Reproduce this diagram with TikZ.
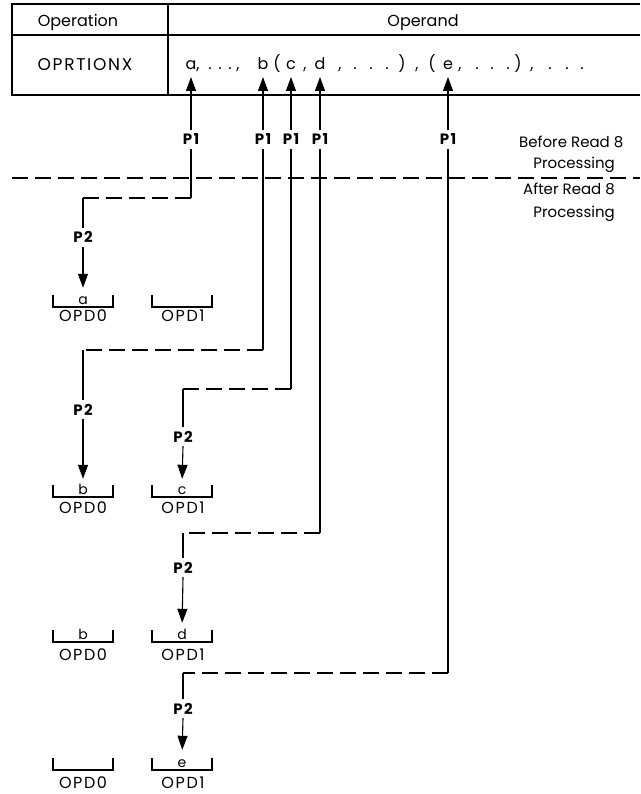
\documentclass[tikz,border=0pt]{standalone}
\usepackage{fontspec}
\setmainfont{Poppins}
\newfontfamily\widefont[LetterSpace=10]{Poppins}
\usetikzlibrary{arrows.meta}
\begin{document}
\begin{tikzpicture}[x=1pt,y=-1pt,
  tbl/.style={line width=1.8pt},
  conn/.style={line width=1.1pt},
  dsh/.style={line width=1.1pt, dash pattern=on 16pt off 7pt},
  arr/.style={-{Triangle[length=14pt,width=10pt]}},
  txt/.style={font=\fontsize{16}{16}\selectfont, inner sep=0pt, anchor=base},
  optx/.style={font=\fontsize{16}{16}\selectfont, inner sep=0pt, anchor=base},
  plbl/.style={font=\widefont\bfseries\fontsize{15}{15}\selectfont, inner sep=4pt, anchor=base},
  opdl/.style={font=\widefont\fontsize{16}{16}\selectfont, inner sep=0pt, anchor=base},
  brk/.style={minimum width=59pt, minimum height=12pt, inner sep=0pt},
  brkline/.style={line width=2pt},
  brl/.style={font=\fontsize{14}{14}\selectfont, inner sep=0pt, anchor=base},
  side/.style={font=\fontsize{15}{15}\selectfont, inner sep=0pt, anchor=base east}
]
\useasboundingbox (0,0) rectangle (640,794);

% table
\draw[tbl] (640,4) -- (12,4) -- (12,95) -- (640,95);
\draw[tbl] (12,35) -- (640,35);
\draw[tbl] (168,4) -- (168,95);
\node[txt] (hop) at (78,27) {Operation};
\node[txt] (hod) at (423,27) {Operand};
\node[txt, font=\widefont\fontsize{17}{17}\selectfont] (opx) at (85,71) {OPRTIONX};

% operand characters
\node[optx] (opa) at (191,70) {a};
\node[optx] (opb) at (263,70) {b};
\node[optx] (opc) at (291,70) {c};
\node[optx] (opd) at (320,70) {d};
\node[optx] (ope) at (448,70) {e};
\foreach \x/\c [count=\i] in {198/{,},210/.,220/.,230/.,238/{,},277/(,305/{,},340/{,},355/.,371/.,387/.,402/),417/{,},432/(,460/{,},477/.,492/.,508/.,518/),532/{,},550/.,567/.,582/.}
  \node[optx] (oc\i) at (\x,70) {\c};

% before/after line
\coordinate (dl) at (12,178);
\coordinate (dr) at (640,178);
\draw[dsh] (dl) -- (dr);
\node[anchor=base west, inner sep=0pt, font=\fontsize{15}{15}\selectfont] (bf1) at (519,148) {Before Read 8};
\node[side] (bf2) at (615,169) {Processing};
\node[side] (af1) at (615,195) {After Read 8};
\node[side] (af2) at (615,218) {Processing};

% P1 labels
\node[plbl] (p1a) at (191,145) {P1};
\node[plbl] (p1b) at (263,145) {P1};
\node[plbl] (p1c) at (291,145) {P1};
\node[plbl] (p1d) at (320,145) {P1};
\node[plbl] (p1e) at (448,145) {P1};

% arrow tips
\coordinate (ta) at (191,77);
\coordinate (tb) at (263,77);
\coordinate (tc) at (291,77);
\coordinate (td) at (320,77);
\coordinate (te) at (448,77);

% corners
\coordinate (ka) at (191,198);  \coordinate (la) at (83,198);
\coordinate (kb) at (263,350);  \coordinate (lb) at (83,350);
\coordinate (kc) at (291,389);  \coordinate (lc) at (183,389);
\coordinate (kd) at (320,533);  \coordinate (ld) at (183,533);
\coordinate (ke) at (448,673);  \coordinate (le) at (183,673);

% P2 labels
\node[plbl] (p2a) at (83,243) {P2};
\node[plbl] (p2b) at (83,415) {P2};
\node[plbl] (p2c) at (183,442) {P2};
\node[plbl] (p2d) at (183,573) {P2};
\node[plbl] (p2e) at (183,714) {P2};

% brackets
\node[brk] (r1a) at (83,301) {};   \node[brk] (r1b) at (182,301) {};
\node[brk] (r2a) at (83,491) {};   \node[brk] (r2b) at (182,491) {};
\node[brk] (r3a) at (83,636) {};   \node[brk] (r3b) at (182,636) {};
\node[brk] (r4a) at (83,764) {};   \node[brk] (r4b) at (182,764) {};
\foreach \n in {r1a,r1b,r2a,r2b,r3a,r3b,r4a,r4b}
  \draw[brkline] (\n.north west) -- (\n.south west) -- (\n.south east) -- (\n.north east);

\node[brl] (la1) at (83,304) {a};
\node[brl] (lb2) at (83,494) {b};
\node[brl] (lc2) at (182,494) {c};
\node[brl] (lb3) at (83,639) {b};
\node[brl] (ld3) at (182,639) {d};
\node[brl] (le4) at (182,767) {e};

\node[opdl] (o1a) at (83,321) {OPD0};  \node[opdl] (o1b) at (183,321) {OPD1};
\node[opdl] (o2a) at (83,513) {OPD0};  \node[opdl] (o2b) at (183,513) {OPD1};
\node[opdl] (o3a) at (83,660) {OPD0};  \node[opdl] (o3b) at (183,660) {OPD1};
\node[opdl] (o4a) at (83,788) {OPD0};  \node[opdl] (o4b) at (183,788) {OPD1};

% connectors
\foreach \s in {a,b,c,d,e}{
  \draw[conn,arr] (p1\s.north) -- (t\s);
  \draw[conn] (k\s) -- (p1\s.south);
  \draw[dsh] (k\s) -- (l\s);
  \draw[conn] (l\s) -- (p2\s.north);
}
\draw[conn,arr,shorten >=7pt] (p2a.south) -- (r1a.north);
\draw[conn,arr,shorten >=6pt] (p2b.south) -- (r2a.north);
\draw[conn,arr,shorten >=6pt] (p2c.south) -- (r2b.north);
\draw[conn,arr,shorten >=7pt] (p2d.south) -- (r3b.north);
\draw[conn,arr,shorten >=8pt] (p2e.south) -- (r4b.north);
\end{tikzpicture}
\end{document}
